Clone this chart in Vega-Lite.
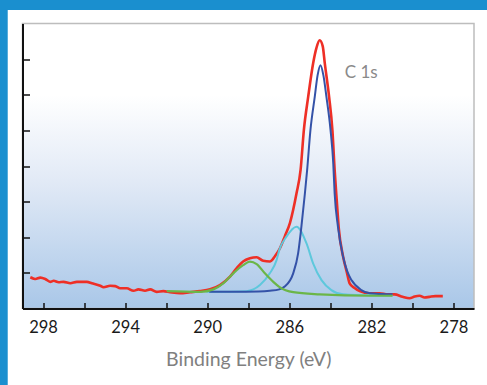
{
  "$schema": "https://vega.github.io/schema/vega-lite/v6.json",
  "width": 451.5,
  "height": 285.1,
  "autosize": {"type": "none"},
  "padding": {"left": 22.5, "top": 23.5, "right": 13, "bottom": 76.4},
  "background": "#1a8fcf",
  "config": {"view": {"stroke": null, "fill": null}},
  "datasets": {
    "spectra": [
      {"s": "red", "e": 298.62, "i": 0.88}, {"s": "red", "e": 298.45, "i": 0.84}, {"s": "red", "e": 298.37, "i": 0.83},
      {"s": "red", "e": 298.13, "i": 0.87}, {"s": "red", "e": 297.89, "i": 0.83}, {"s": "red", "e": 297.65, "i": 0.75},
      {"s": "red", "e": 297.48, "i": 0.78}, {"s": "red", "e": 297.24, "i": 0.74}, {"s": "red", "e": 297.0, "i": 0.75},
      {"s": "red", "e": 296.67, "i": 0.71}, {"s": "red", "e": 296.35, "i": 0.75}, {"s": "red", "e": 295.86, "i": 0.75},
      {"s": "red", "e": 295.62, "i": 0.71}, {"s": "red", "e": 295.21, "i": 0.64}, {"s": "red", "e": 295.05, "i": 0.6},
      {"s": "red", "e": 294.73, "i": 0.64}, {"s": "red", "e": 294.48, "i": 0.63}, {"s": "red", "e": 294.24, "i": 0.57},
      {"s": "red", "e": 293.92, "i": 0.57}, {"s": "red", "e": 293.59, "i": 0.5}, {"s": "red", "e": 293.35, "i": 0.54},
      {"s": "red", "e": 293.03, "i": 0.5}, {"s": "red", "e": 292.78, "i": 0.54}, {"s": "red", "e": 292.46, "i": 0.47},
      {"s": "red", "e": 292.14, "i": 0.49}, {"s": "red", "e": 291.81, "i": 0.46}, {"s": "red", "e": 291.32, "i": 0.43},
      {"s": "red", "e": 290.84, "i": 0.46}, {"s": "red", "e": 290.35, "i": 0.49}, {"s": "red", "e": 289.86, "i": 0.54},
      {"s": "red", "e": 289.38, "i": 0.66}, {"s": "red", "e": 288.89, "i": 0.9}, {"s": "red", "e": 288.57, "i": 1.13},
      {"s": "red", "e": 288.25, "i": 1.32}, {"s": "red", "e": 287.92, "i": 1.41}, {"s": "red", "e": 287.59, "i": 1.44},
      {"s": "red", "e": 287.27, "i": 1.34}, {"s": "red", "e": 286.95, "i": 1.32}, {"s": "red", "e": 286.7, "i": 1.47},
      {"s": "red", "e": 286.45, "i": 1.7}, {"s": "red", "e": 286.21, "i": 2.04}, {"s": "red", "e": 285.97, "i": 2.4},
      {"s": "red", "e": 285.65, "i": 3.23}, {"s": "red", "e": 285.45, "i": 3.89}, {"s": "red", "e": 285.29, "i": 5.01},
      {"s": "red", "e": 285.08, "i": 5.94}, {"s": "red", "e": 284.84, "i": 6.88}, {"s": "red", "e": 284.68, "i": 7.31},
      {"s": "red", "e": 284.52, "i": 7.53}, {"s": "red", "e": 284.37, "i": 7.36}, {"s": "red", "e": 284.27, "i": 6.88},
      {"s": "red", "e": 284.06, "i": 5.94}, {"s": "red", "e": 283.9, "i": 5.01}, {"s": "red", "e": 283.79, "i": 3.89},
      {"s": "red", "e": 283.69, "i": 3.05}, {"s": "red", "e": 283.59, "i": 2.26}, {"s": "red", "e": 283.38, "i": 1.46},
      {"s": "red", "e": 283.2, "i": 1.03}, {"s": "red", "e": 283.06, "i": 0.71}, {"s": "red", "e": 282.82, "i": 0.58},
      {"s": "red", "e": 282.57, "i": 0.49}, {"s": "red", "e": 282.08, "i": 0.43}, {"s": "red", "e": 281.6, "i": 0.43},
      {"s": "red", "e": 281.21, "i": 0.4}, {"s": "red", "e": 280.87, "i": 0.4}, {"s": "red", "e": 280.48, "i": 0.33},
      {"s": "red", "e": 280.14, "i": 0.29}, {"s": "red", "e": 279.89, "i": 0.34}, {"s": "red", "e": 279.65, "i": 0.36},
      {"s": "red", "e": 279.41, "i": 0.31}, {"s": "red", "e": 279.17, "i": 0.33}, {"s": "red", "e": 278.88, "i": 0.35},
      {"s": "red", "e": 278.52, "i": 0.35},

      {"s": "cyan", "e": 290.03, "i": 0.47}, {"s": "cyan", "e": 288.08, "i": 0.49}, {"s": "cyan", "e": 287.43, "i": 0.66},
      {"s": "cyan", "e": 286.95, "i": 0.99}, {"s": "cyan", "e": 286.62, "i": 1.36}, {"s": "cyan", "e": 286.49, "i": 1.64},
      {"s": "cyan", "e": 286.14, "i": 2.02}, {"s": "cyan", "e": 285.65, "i": 2.3}, {"s": "cyan", "e": 285.16, "i": 1.83},
      {"s": "cyan", "e": 284.84, "i": 1.27}, {"s": "cyan", "e": 284.43, "i": 0.8}, {"s": "cyan", "e": 283.95, "i": 0.52},
      {"s": "cyan", "e": 283.38, "i": 0.4}, {"s": "cyan", "e": 282.73, "i": 0.38}, {"s": "cyan", "e": 280.97, "i": 0.37},

      {"s": "blue", "e": 289.9, "i": 0.47}, {"s": "blue", "e": 288.72, "i": 0.47}, {"s": "blue", "e": 287.5, "i": 0.48},
      {"s": "blue", "e": 286.95, "i": 0.5}, {"s": "blue", "e": 286.49, "i": 0.54}, {"s": "blue", "e": 286.24, "i": 0.61},
      {"s": "blue", "e": 285.81, "i": 0.99}, {"s": "blue", "e": 285.57, "i": 1.55}, {"s": "blue", "e": 285.41, "i": 2.3},
      {"s": "blue", "e": 285.24, "i": 3.23}, {"s": "blue", "e": 285.13, "i": 3.89}, {"s": "blue", "e": 284.97, "i": 5.01},
      {"s": "blue", "e": 284.76, "i": 5.94}, {"s": "blue", "e": 284.62, "i": 6.55}, {"s": "blue", "e": 284.48, "i": 6.83},
      {"s": "blue", "e": 284.34, "i": 6.55}, {"s": "blue", "e": 284.19, "i": 5.94}, {"s": "blue", "e": 283.99, "i": 5.01},
      {"s": "blue", "e": 283.86, "i": 4.1}, {"s": "blue", "e": 283.79, "i": 3.23}, {"s": "blue", "e": 283.63, "i": 2.3},
      {"s": "blue", "e": 283.38, "i": 1.46}, {"s": "blue", "e": 283.18, "i": 1.05}, {"s": "blue", "e": 282.97, "i": 0.8},
      {"s": "blue", "e": 282.49, "i": 0.52}, {"s": "blue", "e": 282.08, "i": 0.43}, {"s": "blue", "e": 281.5, "i": 0.41},
      {"s": "blue", "e": 280.97, "i": 0.4},

      {"s": "green", "e": 291.97, "i": 0.49}, {"s": "green", "e": 290.35, "i": 0.47}, {"s": "green", "e": 289.7, "i": 0.54},
      {"s": "green", "e": 289.22, "i": 0.71}, {"s": "green", "e": 288.73, "i": 0.99}, {"s": "green", "e": 288.25, "i": 1.22},
      {"s": "green", "e": 287.92, "i": 1.32}, {"s": "green", "e": 287.59, "i": 1.25}, {"s": "green", "e": 287.19, "i": 0.99},
      {"s": "green", "e": 286.78, "i": 0.75}, {"s": "green", "e": 286.49, "i": 0.61}, {"s": "green", "e": 285.81, "i": 0.46},
      {"s": "green", "e": 284.52, "i": 0.4}, {"s": "green", "e": 282.08, "i": 0.36}, {"s": "green", "e": 280.97, "i": 0.36}
    ],
    "labels": [{"text": "C 1s", "e": 283.3, "i": 6.61}]
  },
  "encoding": {
    "x": {
      "type": "quantitative",
      "scale": {"domain": [277, 299], "reverse": true, "nice": false, "zero": false},
      "axis": {
        "title": "Binding Energy (eV)",
        "values": [298, 296, 294, 292, 290, 288, 286, 284, 282, 280, 278],
        "labelExpr": "datum.value % 4 == 2 ? datum.label : ''",
        "labelOverlap": false,
        "labelFlush": false,
        "tickSize": -6,
        "tickColor": "#111111",
        "tickWidth": 1.5,
        "domainColor": "#111111",
        "domainWidth": 2,
        "labelFont": "Lato",
        "labelFontSize": 16.5,
        "labelColor": "#1a1a1a",
        "labelPadding": 17,
        "titleFont": "Lato",
        "titleFontSize": 19.5,
        "titleFontWeight": "normal",
        "titleColor": "#808080",
        "titlePadding": 14,
        "grid": false,
        "zindex": 1
      }
    },
    "y": {
      "type": "quantitative",
      "scale": {"domain": [0, 8], "nice": false, "zero": false},
      "axis": {
        "title": null,
        "labels": false,
        "values": [1, 2, 3, 4, 5, 6, 7],
        "tickSize": -7,
        "tickColor": "#111111",
        "tickWidth": 1.5,
        "domainColor": "#111111",
        "domainWidth": 2,
        "grid": false,
        "zindex": 1
      }
    }
  },
  "layer": [
    {
      "data": {"values": [{"k": 1}]},
      "mark": {"type": "rect", "fill": "#ffffff"},
      "encoding": {
        "x": {"datum": 299.72, "type": "quantitative"},
        "x2": {"datum": 275.5},
        "y": {"datum": 8.38, "type": "quantitative"},
        "y2": {"datum": -3}
      }
    },
    {
      "data": {"values": [{"k": 1}]},
      "mark": {
        "type": "rect",
        "stroke": "#bdbdbd",
        "strokeWidth": 1.5,
        "fill": {
          "gradient": "linear", "x1": 0, "y1": 0, "x2": 0, "y2": 1,
          "stops": [
            {"offset": 0, "color": "#ffffff"},
            {"offset": 0.25, "color": "#ffffff"},
            {"offset": 0.55, "color": "#e2eaf6"},
            {"offset": 1, "color": "#a9c7e8"}
          ]
        }
      },
      "encoding": {
        "x": {"datum": 299, "type": "quantitative"},
        "x2": {"datum": 277},
        "y": {"datum": 8, "type": "quantitative"},
        "y2": {"datum": 0}
      }
    },
    {
      "data": {"name": "spectra"},
      "transform": [{"filter": "datum.s == 'red'"}],
      "mark": {"type": "line", "color": "#ee2f26", "strokeWidth": 2.6, "interpolate": "monotone"},
      "encoding": {"x": {"field": "e", "type": "quantitative"}, "y": {"field": "i", "type": "quantitative"}}
    },
    {
      "data": {"name": "spectra"},
      "transform": [{"filter": "datum.s == 'cyan'"}],
      "mark": {"type": "line", "color": "#5ec8dc", "strokeWidth": 2, "interpolate": "monotone"},
      "encoding": {"x": {"field": "e", "type": "quantitative"}, "y": {"field": "i", "type": "quantitative"}}
    },
    {
      "data": {"name": "spectra"},
      "transform": [{"filter": "datum.s == 'blue'"}],
      "mark": {"type": "line", "color": "#3452a8", "strokeWidth": 2, "interpolate": "monotone"},
      "encoding": {"x": {"field": "e", "type": "quantitative"}, "y": {"field": "i", "type": "quantitative"}}
    },
    {
      "data": {"name": "spectra"},
      "transform": [{"filter": "datum.s == 'green'"}],
      "mark": {"type": "line", "color": "#6bb648", "strokeWidth": 2.2, "interpolate": "monotone"},
      "encoding": {"x": {"field": "e", "type": "quantitative"}, "y": {"field": "i", "type": "quantitative"}}
    },
    {
      "data": {"name": "labels"},
      "mark": {"type": "text", "align": "left", "baseline": "middle", "font": "Lato", "fontSize": 17, "color": "#8a8a8a"},
      "encoding": {
        "x": {"field": "e", "type": "quantitative"},
        "y": {"field": "i", "type": "quantitative"},
        "text": {"field": "text"}
      }
    }
  ]
}
